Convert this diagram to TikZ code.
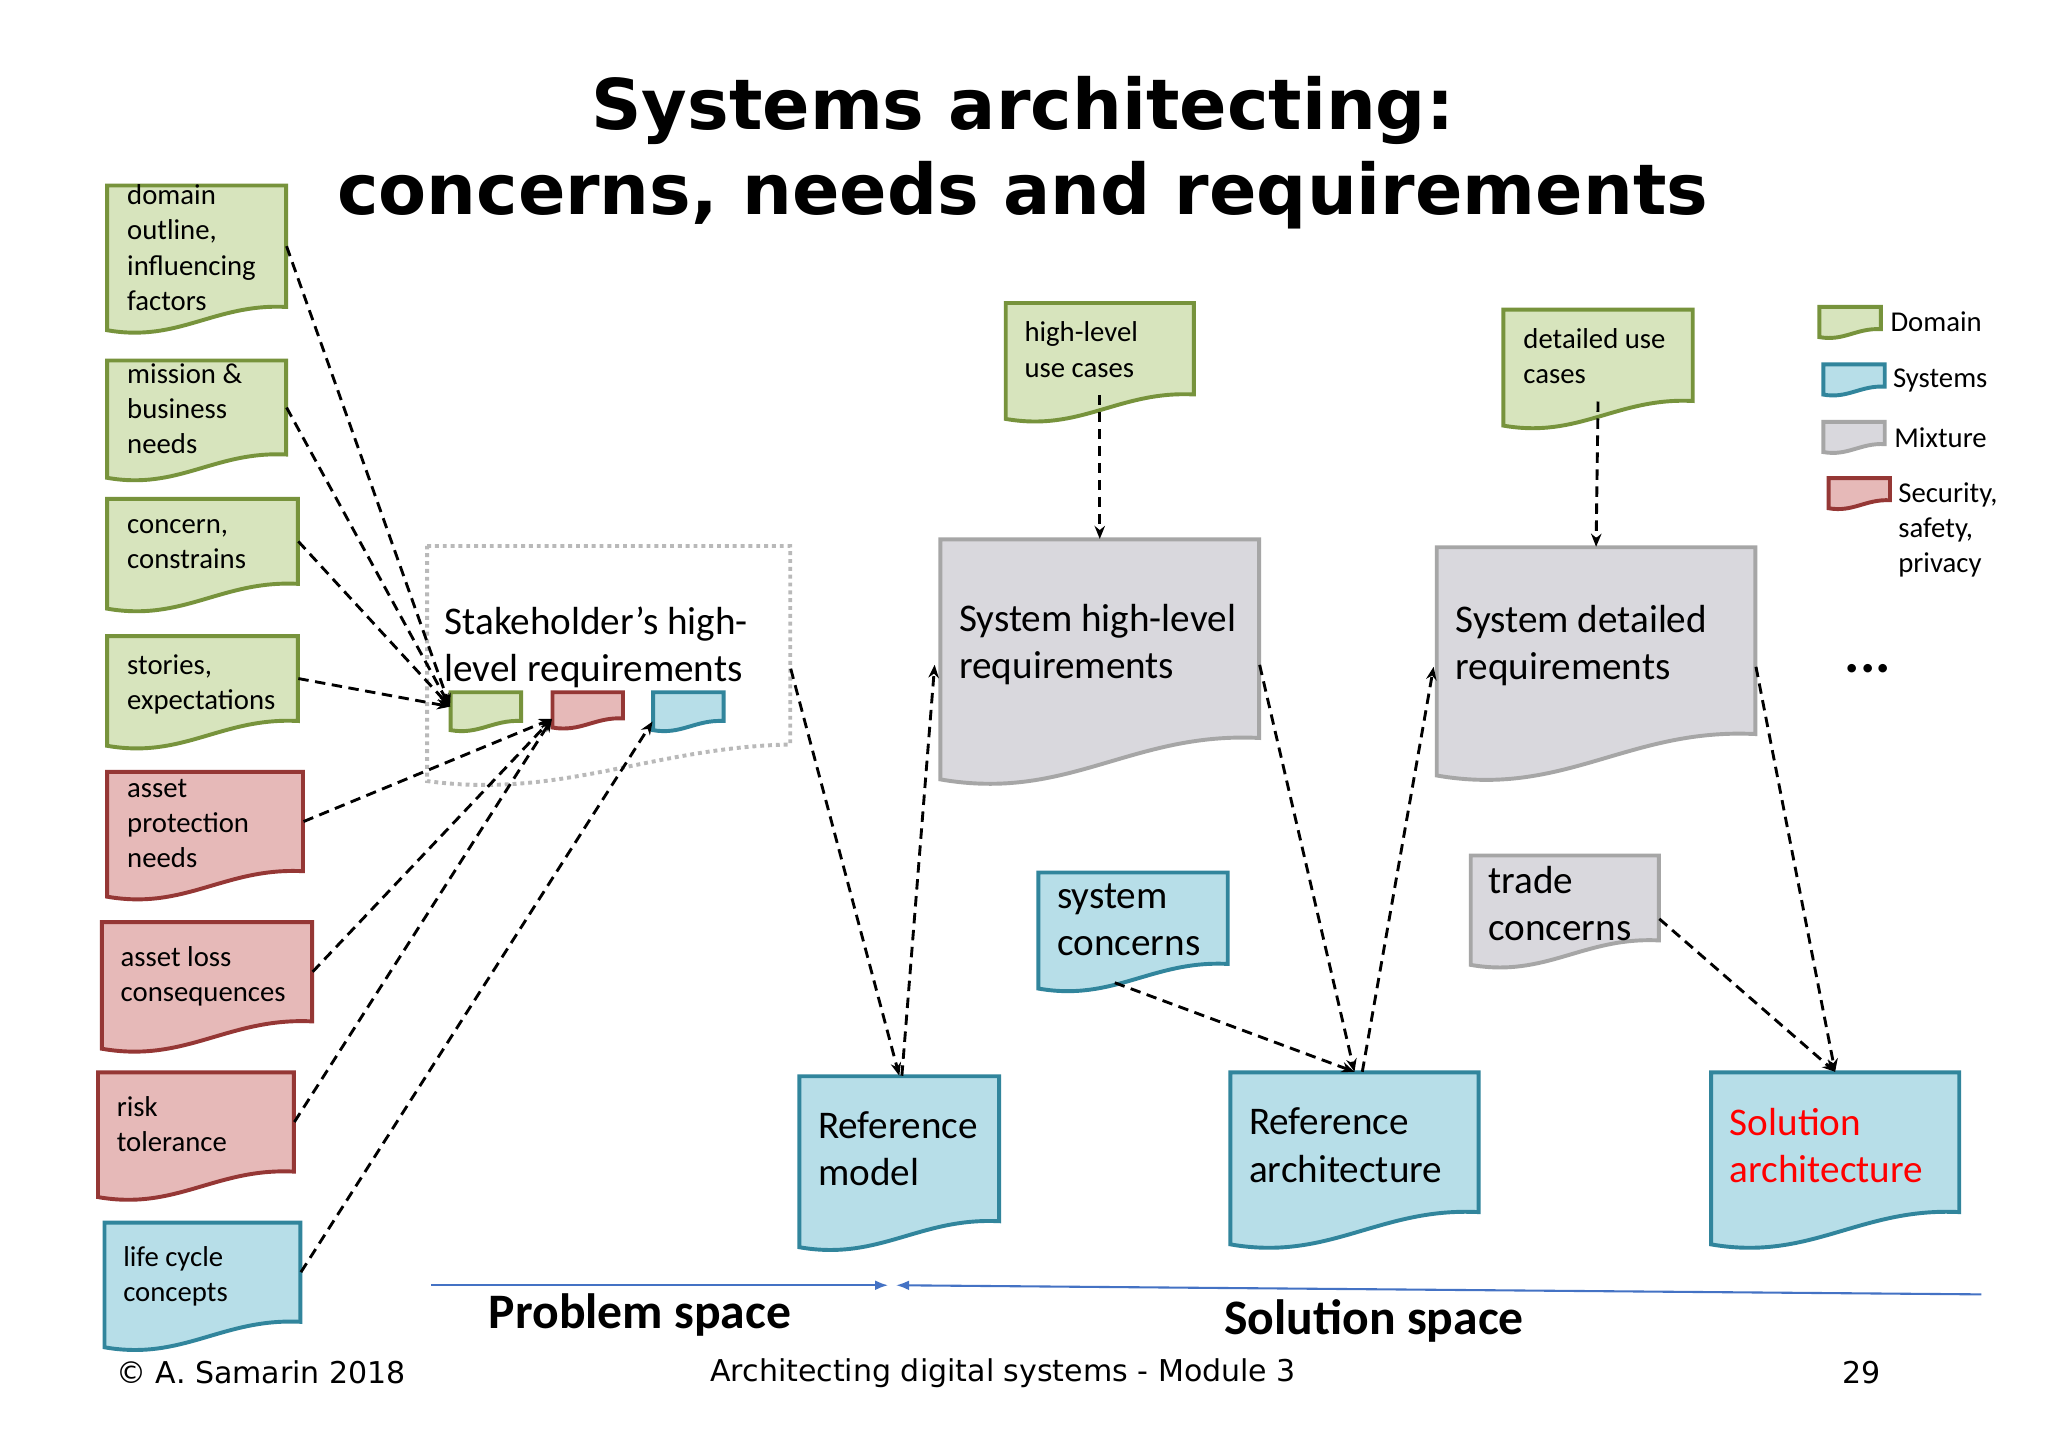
\documentclass[tikz,border=0pt]{standalone}
\usepackage{fontspec}
\setmainfont{Carlito}
\newfontfamily\verd{DejaVu Sans}
\usetikzlibrary{arrows.meta}
\definecolor{gfill}{HTML}{D7E4BD}\definecolor{gdraw}{HTML}{77933C}
\definecolor{rfill}{HTML}{E6B9B8}\definecolor{rdraw}{HTML}{953735}
\definecolor{bfill}{HTML}{B7DEE8}\definecolor{bdraw}{HTML}{31859C}
\definecolor{mfill}{HTML}{D9D8DD}\definecolor{mdraw}{HTML}{A6A6A6}
\definecolor{lblue}{HTML}{4472C4}
\tikzset{
 gdoc/.style={fill=gfill,draw=gdraw,line width=1.5pt},
 rdoc/.style={fill=rfill,draw=rdraw,line width=1.5pt},
 bdoc/.style={fill=bfill,draw=bdraw,line width=1.5pt},
 mdoc/.style={fill=mfill,draw=mdraw,line width=1.5pt},
 stxt/.style={anchor=north west,inner sep=0,align=left,font=\fontsize{11}{13.5}\selectfont},
 btxt/.style={anchor=north west,inner sep=0,align=left,font=\fontsize{15}{18}\selectfont},
 conn/.style={line width=1.1pt,dash pattern=on 4pt off 2.5pt,-{Stealth[length=5pt,width=4pt]}},
}
\newcommand\docbox[6]{%
 \path[#6] (#2,#3) -- (#4,#3) -- (#4,#5) .. controls ({#2+0.6*(#4-#2)},{#5-0.02*(#4-#2)}) and ({#2+0.4*(#4-#2)},{#5+0.2*(#4-#2)}) .. (#2,{#5+0.13*(#4-#2)}) -- cycle;
 \node[inner sep=0,minimum width={(#4-#2)*0.5pt},minimum height={(#5-#3)*0.5pt}] (#1) at ({(#2+#4)/2},{(#3+#5)/2}) {};}
\begin{document}
\begin{tikzpicture}[x=0.5pt,y=-0.5pt]
\useasboundingbox[fill=white] (0,0) rectangle (1568,1108.6);
\node[font=\verd\bfseries\fontsize{26.8}{32.5}\selectfont,align=center] (title) at (783,117) {Systems architecting:\\concerns, needs and requirements};
% left docs
\docbox{dom}{82}{142}{219}{235}{gdoc}
\node[stxt] (domt) at (97,141) {domain\\outline,\\influencing\\factors};
\docbox{mis}{82}{276}{219}{348}{gdoc}
\node[stxt] (mist) at (97,278) {mission \&\\business\\needs};
\docbox{con}{82}{382}{228}{447}{gdoc}
\node[stxt] (cont) at (97,397) {concern,\\constrains};
\docbox{sto}{82}{487}{228}{552}{gdoc}
\node[stxt] (stot) at (97,501) {stories,\\expectations};
\docbox{apr}{82}{591}{232}{667}{rdoc}
\node[stxt] (aprt) at (97,596) {asset\\protection\\needs};
\docbox{alo}{78}{706}{239}{782}{rdoc}
\node[stxt] (alot) at (92,724) {asset loss\\consequences};
\docbox{ris}{75}{821}{225}{897}{rdoc}
\node[stxt] (rist) at (89,839) {risk\\tolerance};
\docbox{lif}{80}{936}{230}{1012}{bdoc}
\node[stxt] (lift) at (94,954) {life cycle\\concepts};
% stakeholder
\path[draw=gray!55,line width=1.5pt,dash pattern=on 1.5pt off 1.5pt] (327,418) -- (605,418) -- (605,570) .. controls (500,572) and (430,612) .. (327,598) -- cycle;
\node[inner sep=0,minimum width=139pt,minimum height=80pt] (stk) at (466,498) {};
\node[btxt] (stkt) at (340,464) {Stakeholder’s high-\\level requirements};
\docbox{sg}{345}{530}{399}{552}{gdoc}
\docbox{sr}{423}{530}{477}{550}{rdoc}
\docbox{sb}{500}{530}{554}{552}{bdoc}
% use cases
\docbox{hlu}{770}{232}{914}{302}{gdoc}
\node[stxt] (hlut) at (784,246) {high-level\\use cases};
\docbox{dtu}{1151}{237}{1296}{307}{gdoc}
\node[stxt] (dtut) at (1166,251) {detailed use\\cases};
% system reqs
\docbox{shl}{720}{413}{964}{565}{mdoc}
\node[btxt] (shlt) at (734,462) {System high-level\\requirements};
\docbox{sdt}{1100}{419}{1344}{562}{mdoc}
\node[btxt] (sdtt) at (1114,463) {System detailed\\requirements};
\docbox{sco}{795}{668}{940}{738}{bdoc}
\node[btxt] (scot) at (809,676) {system\\concerns};
\docbox{tco}{1126}{655}{1270}{720}{mdoc}
\node[btxt] (tcot) at (1139,663) {trade\\concerns};
% architectures
\docbox{rmo}{612}{824}{765}{935}{bdoc}
\node[btxt] (rmot) at (626,851) {Reference\\model};
\docbox{rar}{942}{821}{1132}{928}{bdoc}
\node[btxt] (rart) at (956,848) {Reference\\architecture};
\docbox{sar}{1310}{821}{1500}{928}{bdoc}
\node[btxt,text=red] (sart) at (1324,848) {Solution\\architecture};
% legend
\docbox{lg}{1393}{235}{1440}{252}{gdoc}
\node[stxt] (lgt) at (1447,238) {Domain};
\docbox{lb}{1396}{279}{1443}{296}{bdoc}
\node[stxt] (lbt) at (1449,282) {Systems};
\docbox{lm}{1396}{323}{1443}{340}{mdoc}
\node[stxt] (lmt) at (1450,327) {Mixture};
\docbox{lr}{1400}{366}{1447}{383}{rdoc}
\node[stxt] (lrt) at (1453,369) {Security,\\safety,\\privacy};
\node[font=\bfseries\fontsize{22}{22}\selectfont] (dots) at (1430,512) {...};
% connectors
\draw[conn] (dom.east) -- (sg.west);
\draw[conn] (mis.east) -- (sg.west);
\draw[conn] (con.east) -- (sg.west);
\draw[conn] (sto.east) -- (sg.west);
\draw[conn] (apr.east) -- (sr.south west);
\draw[conn] (alo.east) -- (sr.south west);
\draw[conn] (ris.east) -- (sr.south west);
\draw[conn] (lif.east) -- (sb.south west);
\draw[conn] ([yshift=-7pt]stk.east) -- (rmo.north);
\draw[conn] ([xshift=1pt]rmo.north) -- ([xshift=-2pt,yshift=-10pt]shl.west);
\draw[conn] (hlu.south) -- (shl.north);
\draw[conn] ([yshift=-10pt]shl.east) -- (rar.north);
\draw[conn] ([xshift=3pt]rar.north) -- ([xshift=-1pt,yshift=-10pt]sdt.west);
\draw[conn] ([xshift=-7pt,yshift=-7pt]sco.south) -- (rar.north);
\draw[conn] (dtu.south) -- (sdt.north);
\draw[conn] ([yshift=-10pt]sdt.east) -- (sar.north);
\draw[conn] ([yshift=-8pt]tco.east) -- (sar.north);
% spaces
\coordinate (pmid) at (680,984);
\coordinate (smid) at (686,984);
\coordinate (pl) at (330,984);
\coordinate (sr2) at (1517,991);
\draw[lblue,line width=0.8pt,-{Latex[length=5pt]}] (pl) -- (pmid);
\draw[lblue,line width=0.8pt,-{Latex[length=5pt]}] (sr2) -- (smid);
\node[font=\bfseries\fontsize{19}{19}\selectfont] (ps) at (490,1007) {Problem space};
\node[font=\bfseries\fontsize{19}{19}\selectfont] (ss) at (1052,1011) {Solution space};
\node[font=\verd\fontsize{11.5}{12}\selectfont] (f1) at (200,1051) {© A. Samarin 2018};
\node[font=\verd\fontsize{11.5}{12}\selectfont] (f2) at (768,1051) {Architecting digital systems - Module 3};
\node[font=\verd\fontsize{11.5}{12}\selectfont] (f3) at (1425,1051) {29};
\end{tikzpicture}
\end{document}
